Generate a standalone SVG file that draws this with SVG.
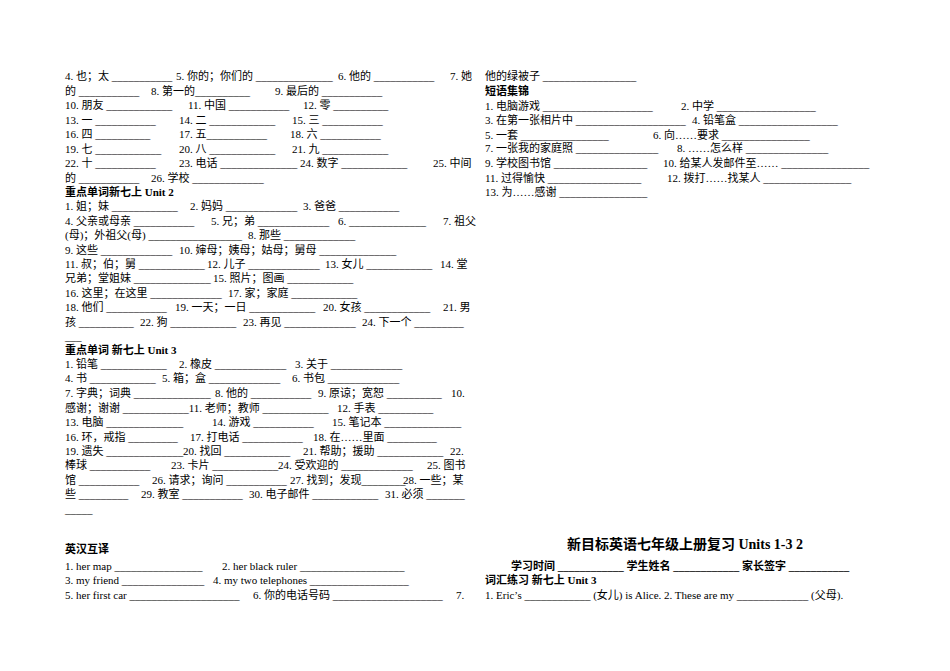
<svg xmlns="http://www.w3.org/2000/svg" width="950" height="671" viewBox="0 0 950 671" xml:space="preserve">
<style>
text{font-family:"Liberation Serif","Noto Sans CJK SC",serif;font-size:11px;fill:#000}
.b{font-weight:bold;font-family:"Liberation Serif","Noto Sans CJK SC",sans-serif}
.t{font-size:14px}
</style>
<rect width="950" height="671" fill="#fff"/>
<g id="left">
<text x="65" y="80">4. 也；太 ___________</text><text x="176" y="80">5. 你的；你们的 ______________</text><text x="338" y="80">6. 他的 ___________</text><text x="450" y="80">7. 她</text>
<text x="65" y="95">的 ___________</text><text x="151" y="95">8. 第一的__________</text><text x="275" y="95">9. 最后的 ___________</text>
<text x="65" y="109">10. 朋友 ____________</text><text x="188" y="109">11. 中国 ___________</text><text x="303" y="109">12. 零 __________</text>
<text x="65" y="124">13. 一 ___________</text><text x="179" y="124">14. 二 ____________</text><text x="292" y="124">15. 三 ___________</text>
<text x="65" y="138">16. 四 __________</text><text x="179" y="138">17. 五___________</text><text x="290" y="138">18. 六 ___________</text>
<text x="65" y="153">19. 七 ____________</text><text x="179" y="153">20. 八 ____________</text><text x="292" y="153">21. 九 ____________</text>
<text x="65" y="167">22. 十 ___________</text><text x="179" y="167">23. 电话 ______________</text><text x="300" y="167">24. 数字 ____________</text><text x="433" y="167">25. 中间</text>
<text x="65" y="182">的 ___________</text><text x="151" y="182">26. 学校 _____________</text>
<text x="65" y="196" class="b">重点单词新七上 Unit 2</text>
<text x="65" y="210">1.  姐；妹 ____________</text><text x="190" y="210">2. 妈妈 _____________</text><text x="303" y="210">3. 爸爸 ___________</text>
<text x="65" y="225">4. 父亲或母亲 ___________</text><text x="211" y="225">5. 兄；弟 _____________</text><text x="338" y="225">6. ______________</text><text x="443" y="225">7. 祖父</text>
<text x="65" y="239">(母)；外祖父(母) _________________</text><text x="248" y="239">8. 那些 _____________</text>
<text x="65" y="254">9. 这些 _____________</text><text x="179" y="254">10. 婶母；姨母；姑母；舅母 ______________</text>
<text x="65" y="268">11. 叔；伯；舅 ____________</text><text x="207" y="268">12. 儿子 _____________</text><text x="325" y="268">13. 女儿 ____________</text><text x="440" y="268">14. 堂</text>
<text x="65" y="282">兄弟；堂姐妹 ______________</text><text x="213" y="282">15. 照片；图画 ____________</text>
<text x="65" y="297">16. 这里；在这里 _____________</text><text x="228" y="297">17. 家；家庭 ____________</text>
<text x="65" y="311">18. 他们 ___________</text><text x="175" y="311">19. 一天；一日 ____________</text><text x="323" y="311">20. 女孩 ____________</text><text x="443" y="311">21. 男</text>
<text x="65" y="326">孩 __________</text><text x="140" y="326">22. 狗 ____________</text><text x="243" y="326">23. 再见 _____________</text><text x="362" y="326">24. 下一个 _________</text>
<text x="65" y="340">___</text>
<text x="65" y="354" class="b">重点单词 新七上 Unit 3</text>
<text x="65" y="368">1.  铅笔 ____________</text><text x="179" y="368">2. 橡皮 _____________</text><text x="295" y="368">3. 关于 _____________</text>
<text x="65" y="382">4. 书 ____________</text><text x="162" y="382">5. 箱；盒 _____________</text><text x="292" y="382">6. 书包 _____________</text>
<text x="65" y="397">7. 字典；词典 ______________</text><text x="215" y="397">8. 他的 ___________</text><text x="318" y="397">9. 原谅；宽恕 __________</text><text x="451" y="397">10.</text>
<text x="65" y="412">感谢；谢谢 ____________11. 老师；教师 ____________</text><text x="337" y="412">12. 手表 __________</text>
<text x="65" y="426">13. 电脑 ______________</text><text x="212" y="426">14. 游戏 ___________</text><text x="332" y="426">15. 笔记本 ______________</text>
<text x="65" y="441">16. 环，戒指 _________</text><text x="190" y="441">17. 打电话 ___________</text><text x="313" y="441">18. 在……里面 _________</text>
<text x="65" y="455">19. 遗失 ______________</text><text x="183" y="455">20. 找回 ____________</text><text x="303" y="455">21. 帮助；援助 ____________</text><text x="450" y="455">22.</text>
<text x="65" y="469">棒球 ___________</text><text x="171" y="469">23. 卡片 ____________</text><text x="278" y="469">24. 受欢迎的 _____________</text><text x="427" y="469">25. 图书</text>
<text x="65" y="484">馆 ___________</text><text x="152" y="484">26. 请求；询问 ___________</text><text x="290" y="484">27. 找到；发现________</text><text x="403" y="484">28. 一些；某</text>
<text x="65" y="498">些 _________</text><text x="141" y="498">29. 教室 ___________</text><text x="249" y="498">30. 电子邮件 ____________</text><text x="385" y="498">31. 必须 _______</text>
<text x="65" y="513">_____</text>
<text x="65" y="553" class="b">英汉互译</text>
<text x="65" y="570">1.   her map ________________</text><text x="222" y="570">2. her black ruler ___________________</text>
<text x="65" y="584">3. my friend _______________</text><text x="213" y="584">4. my two telephones __________________</text>
<text x="65" y="599">5. her first car ____________________</text><text x="253" y="599">6. 你的电话号码 ____________________</text><text x="456" y="599">7.</text>
</g>
<g id="right">
<text x="485" y="80">他的绿被子 _________________</text>
<text x="485" y="95" class="b">短语集锦</text>
<text x="485" y="110">1.  电脑游戏 ____________________</text><text x="681" y="110">2. 中学 __________________</text>
<text x="485" y="124">3. 在第一张相片中 ____________________</text><text x="692" y="124">4. 铅笔盒 __________________</text>
<text x="485" y="139">5. 一套 ________________</text><text x="653" y="139">6. 向……要求 ________________</text>
<text x="485" y="152">7. 一张我的家庭照 _______________</text><text x="677" y="152">8. ……怎么样 _______________</text>
<text x="485" y="167">9. 学校图书馆 _________________</text><text x="663" y="167">10. 给某人发邮件至…… ________________</text>
<text x="485" y="182">11. 过得愉快 _________________</text><text x="667" y="182">12. 拨打……找某人 ________________</text>
<text x="485" y="196">13. 为……感谢 ________________</text>
<text x="685" y="549" class="b t" text-anchor="middle">新目标英语七年级上册复习 Units 1-3 2</text>
<text x="511" y="570" class="b">学习时间 ____________ 学生姓名 ____________ 家长签字 ___________</text>
<text x="485" y="584" class="b">词汇练习 新七上 Unit 3</text>
<text x="485" y="599">1.   Eric’s ____________ (女儿) is Alice.   2. These are my _____________ (父母).</text>
</g>
</svg>
